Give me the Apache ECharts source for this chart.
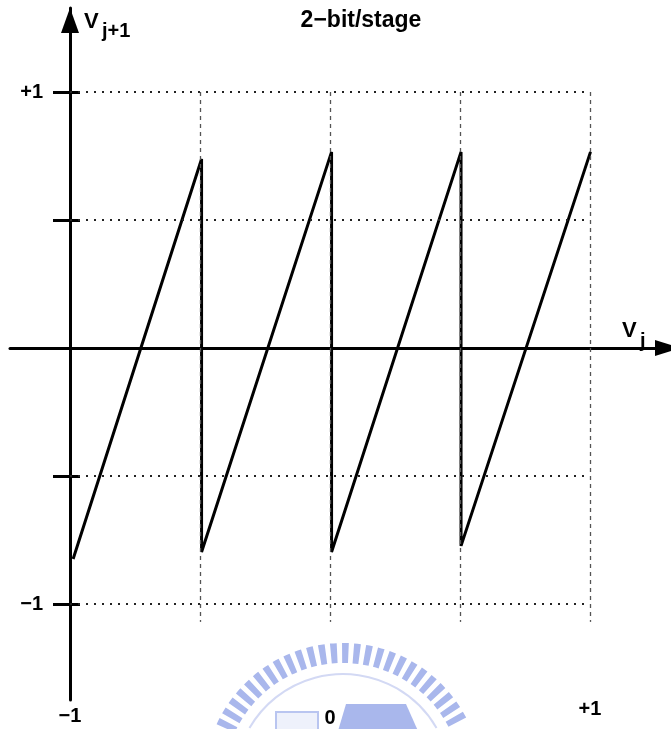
<!DOCTYPE html>
<html>
<head>
<meta charset="utf-8">
<script src="https://cdn.jsdelivr.net/npm/echarts@6/dist/echarts.min.js"></script>
<style>
  html, body { margin: 0; padding: 0; background: #fff; }
  #chart { width: 671px; height: 729px; }
</style>
</head>
<body>
<div id="chart"></div>
<script>
// Residue transfer curve of one 2-bit/stage pipeline stage: V(j+1) versus V(j)
const vjIn  = [-0.988, -0.494, -0.494, 0.006, 0.006, 0.504, 0.504, 1.002];
const vjOut = [-0.824, 0.738, -0.797, 0.766, -0.797, 0.766, -0.773, 0.766];

// reference levels (dotted horizontals, dashed verticals)
const levelY = [1, 0.5, -0.5, -1];
const levelX = [-0.5, 0, 0.5, 1];
const levelXBottom = -1.07;

// ticks and their labels
const yTickValues = [-1, -0.5, 0.5, 1];
const yLabelValues = [-1, 1];
const yLabelTexts = ['−1', '+1'];
const xLabelValues = [-1, 0, 1];
const xLabelTexts = ['−1', '0', '+1'];
const xLabelStyles = ['lo', 'lower', 'hi'];

const titleText = '2−bit/stage';
const yName = ['V', 'j+1'];
const xName = ['V', 'j'];

const FONT = '"Liberation Sans", Arial, Helvetica, sans-serif';
const X_MIN = -1.23077, X_MAX = 1.34615;
const Y_MIN = -1.375, Y_MAX = 1.328125;

const chart = echarts.init(document.getElementById('chart'), null, { renderer: 'canvas' });

const axisLineStyle = { color: '#000', width: 3 };

// reference lines through the library's coordinate system
const levelLines = [];
levelY.forEach(y => {
  levelLines.push([
    { coord: [-1, y], lineStyle: { color: '#222', width: 1.8, type: [2, 6] } },
    { coord: [1, y] }
  ]);
});
levelX.forEach(x => {
  levelLines.push([
    { coord: [x, 1], lineStyle: { color: '#555', width: 1.3, type: [4, 4] } },
    { coord: [x, levelXBottom] }
  ]);
});

// faint emblem behind the lower part of the figure
const emblem = [];
const ecx = 343, ecy = 782;
for (let a = -154; a <= -26; a += 5) {
  emblem.push({
    type: 'sector', silent: true, z: -10,
    shape: { cx: ecx, cy: ecy, r0: 119, r: 139,
             startAngle: (a - 1.4) * Math.PI / 180, endAngle: (a + 1.4) * Math.PI / 180 },
    style: { fill: '#a9b7ec' }
  });
}
emblem.push({
  type: 'arc', silent: true, z: -10,
  shape: { cx: ecx, cy: ecy, r: 108, startAngle: -150 * Math.PI / 180, endAngle: -30 * Math.PI / 180 },
  style: { stroke: '#d3d9f4', lineWidth: 2, fill: null }
});
emblem.push({
  type: 'rect', silent: true, z: -10,
  shape: { x: 276, y: 712, width: 42, height: 20 },
  style: { fill: '#eef1fb', stroke: '#b9c5f0', lineWidth: 2 }
});
emblem.push({
  type: 'polygon', silent: true, z: -10,
  shape: { points: [[338, 731], [346, 704], [406, 704], [418, 731]] },
  style: { fill: '#a9b7ec' }
});

const option = {
  animation: false,
  backgroundColor: '#fff',
  grid: { left: 10, right: -9, top: 8, bottom: 29, containLabel: false, outerBoundsMode: 'none' },
  xAxis: [
    {
      type: 'value', min: X_MIN, max: X_MAX,
      axisLine: { show: true, onZero: true, lineStyle: axisLineStyle,
                  symbol: ['none', 'triangle'], symbolSize: [16, 25], symbolOffset: [0, -12.5] },
      axisTick: { show: false }, axisLabel: { show: false }, splitLine: { show: false }
    },
    {
      type: 'value', min: X_MIN, max: X_MAX, position: 'bottom',
      axisLine: { show: false, onZero: false },
      axisTick: { show: false }, splitLine: { show: false },
      axisLabel: {
        show: true, customValues: xLabelValues, margin: 0,
        formatter: v => {
          const i = xLabelValues.indexOf(v);
          return i < 0 ? '' : '{' + xLabelStyles[i] + '|' + xLabelTexts[i] + '}';
        },
        rich: {
          lo:    { fontFamily: FONT, fontWeight: 'bold', fontSize: 20, color: '#000', lineHeight: 32 },
          lower: { fontFamily: FONT, fontWeight: 'bold', fontSize: 20, color: '#000', lineHeight: 36 },
          hi:    { fontFamily: FONT, fontWeight: 'bold', fontSize: 20, color: '#000', lineHeight: 18 }
        }
      }
    }
  ],
  yAxis: [
    {
      type: 'value', min: Y_MIN, max: Y_MAX, position: 'left', offset: -60,
      axisLine: { show: true, onZero: false, lineStyle: axisLineStyle,
                  symbol: ['none', 'triangle'], symbolSize: [18, 25], symbolOffset: [0, -12.5] },
      axisTick: { show: true, customValues: yTickValues, length: 17, lineStyle: axisLineStyle },
      axisLabel: {
        show: true, customValues: yLabelValues, margin: 27,
        formatter: v => { const i = yLabelValues.indexOf(v); return i < 0 ? '' : yLabelTexts[i]; },
        color: '#000', fontFamily: FONT, fontWeight: 'bold', fontSize: 20
      },
      splitLine: { show: false }
    },
    {
      type: 'value', min: Y_MIN, max: Y_MAX, position: 'left', offset: -60,
      axisLine: { show: false, onZero: false },
      axisTick: { show: true, inside: true, customValues: yTickValues, length: 10, lineStyle: axisLineStyle },
      axisLabel: { show: false }, splitLine: { show: false }
    }
  ],
  graphic: emblem.concat([
    { type: 'text', x: 361, y: 21, z: 10,
      style: { text: titleText, font: 'bold 23px ' + FONT, fill: '#000',
               align: 'center', verticalAlign: 'middle', textAlign: 'center', textVerticalAlign: 'middle' } },
    { type: 'text', x: 84, y: 21.5, z: 10,
      style: { text: yName[0], font: 'bold 22px ' + FONT, fill: '#000',
               align: 'left', verticalAlign: 'middle', textAlign: 'left', textVerticalAlign: 'middle' } },
    { type: 'text', x: 102, y: 31, z: 10,
      style: { text: yName[1], font: 'bold 20px ' + FONT, fill: '#000',
               align: 'left', verticalAlign: 'middle', textAlign: 'left', textVerticalAlign: 'middle' } },
    { type: 'text', x: 622, y: 331, z: 10,
      style: { text: xName[0], font: 'bold 22px ' + FONT, fill: '#000',
               align: 'left', verticalAlign: 'middle', textAlign: 'left', textVerticalAlign: 'middle' } },
    { type: 'text', x: 640, y: 341, z: 10,
      style: { text: xName[1], font: 'bold 20px ' + FONT, fill: '#000',
               align: 'left', verticalAlign: 'middle', textAlign: 'left', textVerticalAlign: 'middle' } }
  ]),
  series: [
    {
      type: 'line', xAxisIndex: 0, yAxisIndex: 0, data: [], silent: true, z: 1,
      markLine: { silent: true, symbol: ['none', 'none'], label: { show: false },
                  animation: false, data: levelLines }
    },
    {
      type: 'line', xAxisIndex: 0, yAxisIndex: 0, z: 3,
      data: vjIn.map((x, i) => [x, vjOut[i]]),
      symbol: 'none', showSymbol: false, clip: false,
      lineStyle: { color: '#000', width: 3 }
    }
  ]
};

chart.setOption(option);
</script>
</body>
</html>
